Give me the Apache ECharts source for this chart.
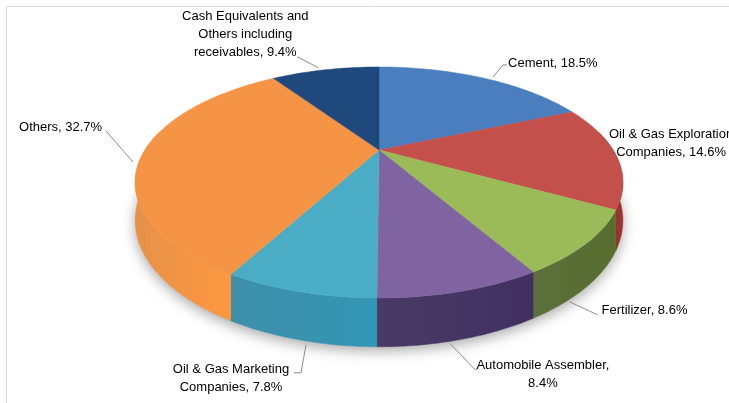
<!DOCTYPE html>
<html>
<head>
<meta charset="utf-8">
<script src="https://cdn.jsdelivr.net/npm/echarts@6/dist/echarts.min.js"></script>
<style>
html, body { margin: 0; padding: 0; background: #fff; }
#pie { width: 729px; height: 403px; }
</style>
</head>
<body>
<div id="pie"></div>
<script>
// sector split of the fund, % of total
var categories = ['Cement', 'Oil & Gas Exploration\nCompanies', 'Fertilizer', 'Automobile Assembler',
                  'Oil & Gas Marketing\nCompanies', 'Others', 'Cash Equivalents and\nOthers including\nreceivables'];
var shares = [18.5, 14.6, 8.6, 8.4, 7.8, 32.7, 9.4];
var valueOnNewLine = [false, false, false, true, false, false, false];

var topColors  = ['#4A7EBF', '#C4504C', '#9BBB59', '#8064A2', '#4BACC6', '#F49444', '#1F497D'];
var wallColors = ['#2F5A8E', '#8E2A28', '#4E632A', '#3A2B58', '#2E86A2', '#E3883A', '#173659'];

// label placement: start = shift of leader start from rim point,
// elbow / text = offsets from rim point
var labelLayout = [
    {start: [10, -1], elbow: [20, -13], tail: 4, text: [25, -15], align: 'left'},
    {start: null, elbow: null, text: [55, -12], align: 'center'},
    {start: [-17, 15], elbow: [11, 28], tail: 0, text: [15, 24], align: 'left'},
    {start: [-11, 4], elbow: [14, 30], tail: 2, text: [82, 35], align: 'center'},
    {start: [7, 5], elbow: [2, 33], tail: -7, text: [-68, 39], align: 'center'},
    {start: [-9, 7], elbow: [-36, -24], tail: 0, text: [-40, -28], align: 'right'},
    {start: [-7, -2], elbow: [-28, -13], tail: 0, text: [-80, -35], align: 'center'}
];

// 3d pie projection
var CX = 379, CY = 150, KX = 234, KY = 106.4, PERSP = 3.554, DEPTH = 35;
function proj(deg, h) {
    var t = deg * Math.PI / 180, X = Math.sin(t), Z = -Math.cos(t);
    var s = PERSP / (PERSP - Z);
    return [CX + s * X * KX, CY + s * (Z * KY + h)];
}

var total = shares.reduce(function (a, b) { return a + b; }, 0);
var startDeg = [], endDeg = [];
var acc = 0;
shares.forEach(function (v) {
    startDeg.push(acc / total * 360);
    acc += v;
    endDeg.push(acc / total * 360);
});

function arc(a, b, h) {
    var pts = [];
    for (var d = a; d < b; d += 1) pts.push(proj(d, h));
    pts.push(proj(b, h));
    return pts;
}

function renderWall(params, api) {
    var i = params.dataIndex;
    var a = Math.max(startDeg[i], 80), b = Math.min(endDeg[i], 280);
    if (b <= a) return {type: 'group', children: []};
    var pts = arc(a, b, 0).concat(arc(a, b, DEPTH).reverse());
    return {
        type: 'polygon',
        shape: {points: pts},
        style: {
            fill: new echarts.graphic.LinearGradient(0, 0, 1, 0, [
                {offset: 0, color: echarts.color.lift(wallColors[i], 0.08)},
                {offset: 1, color: echarts.color.lift(wallColors[i], -0.12)}
            ]),
            stroke: wallColors[i],
            lineWidth: 0.5
        }
    };
}

function renderTop(params, api) {
    var i = params.dataIndex;
    var pts = [[CX, CY]].concat(arc(startDeg[i], endDeg[i], 0));
    var children = [{
        type: 'polygon',
        shape: {points: pts},
        style: {fill: topColors[i], stroke: topColors[i], lineWidth: 0.5}
    }];

    var mid = (startDeg[i] + endDeg[i]) / 2;
    var front = Math.cos(mid * Math.PI / 180) < -0.3;
    var anchor = proj(mid, front ? DEPTH : 0);
    var lay = labelLayout[i];
    if (lay.elbow) {
        var s = [anchor[0] + lay.start[0], anchor[1] + lay.start[1]];
        var e = [anchor[0] + lay.elbow[0], anchor[1] + lay.elbow[1]];
        var line = [s, e];
        if (lay.tail) line.push([e[0] + lay.tail, e[1]]);
        children.push({
            type: 'polyline',
            shape: {points: line},
            style: {stroke: '#8C8C8C', lineWidth: 1, fill: null}
        });
    }
    var txt = categories[i] + ',' + (valueOnNewLine[i] ? '\n' : ' ') + shares[i].toFixed(1) + '%';
    children.push({
        type: 'text',
        x: anchor[0] + lay.text[0],
        y: anchor[1] + lay.text[1],
        style: {
            text: txt,
            fill: '#000',
            font: '13px "Liberation Sans", Arial, sans-serif',
            align: lay.align,
            verticalAlign: 'middle',
            lineHeight: 18
        }
    });
    return {type: 'group', children: children};
}

var myChart = echarts.init(document.getElementById('pie'));

var outline = arc(0, 360, DEPTH);

pieOption = {
    animation: false,
    backgroundColor: '#fff',
    graphic: [
        {
            type: 'rect', z: 0,
            shape: {x: 6.5, y: 6.5, width: 760, height: 420},
            style: {fill: '#fff', stroke: '#D9D9D9', lineWidth: 1}
        },
        {
            type: 'polygon', z: 1,
            shape: {points: outline},
            style: {fill: '#fff', shadowBlur: 14, shadowColor: 'rgba(0,0,0,0.35)', shadowOffsetY: 4}
        }
    ],
    series: [
        {
            type: 'custom',
            coordinateSystem: 'none',
            z: 5,
            renderItem: renderWall,
            data: shares
        },
        {
            type: 'custom',
            coordinateSystem: 'none',
            z: 6,
            renderItem: renderTop,
            data: shares
        }
    ]
};
myChart.setOption(pieOption);
</script>
</body>
</html>
